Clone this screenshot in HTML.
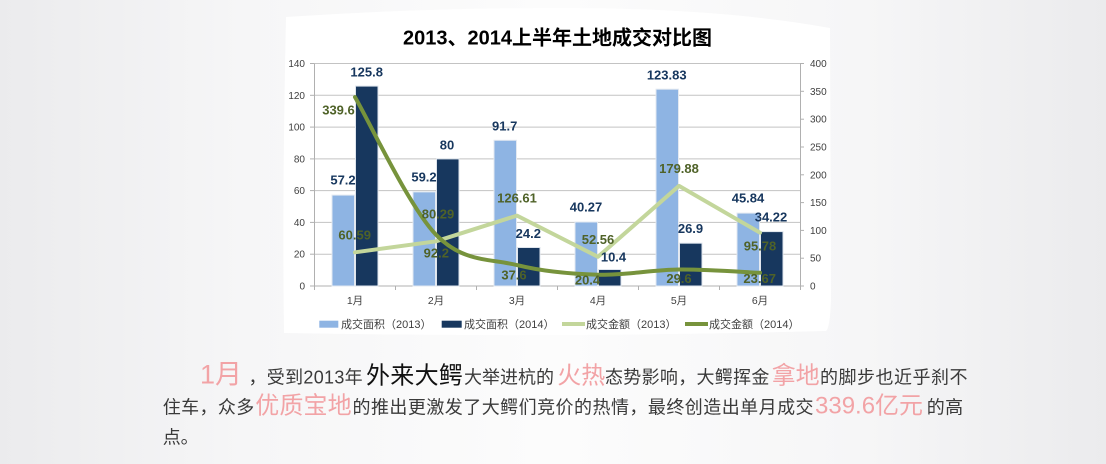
<!DOCTYPE html>
<html>
<head>
<meta charset="utf-8">
<style>
html,body{margin:0;padding:0;width:1106px;height:464px;overflow:hidden;background:#f4f4f5;}
svg{display:block;}
.t{font-family:"Liberation Sans","Noto Sans CJK SC",sans-serif;}
</style>
</head>
<body>
<svg width="1106" height="464" viewBox="0 0 1106 464" xmlns="http://www.w3.org/2000/svg" class="t">
  <defs>
    <linearGradient id="bg" x1="0" y1="0" x2="1" y2="0">
      <stop offset="0" stop-color="#ebebed"/>
      <stop offset="0.22" stop-color="#f6f6f7"/>
      <stop offset="0.5" stop-color="#fcfcfc"/>
      <stop offset="0.78" stop-color="#f6f6f7"/>
      <stop offset="1" stop-color="#ebebed"/>
    </linearGradient>
  </defs>
  <rect x="0" y="0" width="1106" height="464" fill="url(#bg)"/>
  <!-- white chart card -->
  <path d="M286 17 Q 420 8 560 8 Q 720 8 830 28 L 831 300 Q 830 328 826 331 Q 560 338 284 333 Q 282 200 286 17 Z" fill="#ffffff"/>

  <!-- Title -->
  <text x="557.5" y="44.3" font-size="20" font-weight="bold" text-anchor="middle" fill="#000">2013、2014上半年土地成交对比图</text>

  <!-- gridlines -->
  <g stroke="#c3c3c3" stroke-width="1">
    <line x1="314" y1="63.5" x2="800" y2="63.5"/>
    <line x1="314" y1="95.3" x2="800" y2="95.3"/>
    <line x1="314" y1="127.1" x2="800" y2="127.1"/>
    <line x1="314" y1="158.9" x2="800" y2="158.9"/>
    <line x1="314" y1="190.6" x2="800" y2="190.6"/>
    <line x1="314" y1="222.4" x2="800" y2="222.4"/>
    <line x1="314" y1="254.2" x2="800" y2="254.2"/>
  </g>
  <!-- axes -->
  <g stroke="#b0b0b0" stroke-width="1">
    <line x1="314.5" y1="63.5" x2="314.5" y2="286"/>
    <line x1="800.5" y1="63.5" x2="800.5" y2="286"/>
    <line x1="310" y1="286" x2="804" y2="286"/>
    <line x1="310" y1="63.5" x2="314" y2="63.5"/>
    <line x1="310" y1="95.3" x2="314" y2="95.3"/>
    <line x1="310" y1="127.1" x2="314" y2="127.1"/>
    <line x1="310" y1="158.9" x2="314" y2="158.9"/>
    <line x1="310" y1="190.6" x2="314" y2="190.6"/>
    <line x1="310" y1="222.4" x2="314" y2="222.4"/>
    <line x1="310" y1="254.2" x2="314" y2="254.2"/>
    <line x1="800" y1="63.5" x2="804" y2="63.5"/>
    <line x1="800" y1="91.3" x2="804" y2="91.3"/>
    <line x1="800" y1="119.2" x2="804" y2="119.2"/>
    <line x1="800" y1="147.0" x2="804" y2="147.0"/>
    <line x1="800" y1="174.8" x2="804" y2="174.8"/>
    <line x1="800" y1="202.6" x2="804" y2="202.6"/>
    <line x1="800" y1="230.4" x2="804" y2="230.4"/>
    <line x1="800" y1="258.2" x2="804" y2="258.2"/>
    <line x1="314.5" y1="286" x2="314.5" y2="290"/>
    <line x1="395.5" y1="286" x2="395.5" y2="290"/>
    <line x1="476.5" y1="286" x2="476.5" y2="290"/>
    <line x1="557.5" y1="286" x2="557.5" y2="290"/>
    <line x1="638.5" y1="286" x2="638.5" y2="290"/>
    <line x1="719.5" y1="286" x2="719.5" y2="290"/>
    <line x1="800.5" y1="286" x2="800.5" y2="290"/>
  </g>

  <!-- left tick labels -->
  <g font-size="10" fill="#404040" text-anchor="end">
    <text x="305" y="67">140</text>
    <text x="305" y="98.8">120</text>
    <text x="305" y="130.6">100</text>
    <text x="305" y="162.4">80</text>
    <text x="305" y="194.1">60</text>
    <text x="305" y="225.9">40</text>
    <text x="305" y="257.7">20</text>
    <text x="305" y="289.5">0</text>
  </g>
  <!-- right tick labels -->
  <g font-size="10" fill="#404040">
    <text x="810" y="67">400</text>
    <text x="810" y="94.8">350</text>
    <text x="810" y="122.7">300</text>
    <text x="810" y="150.5">250</text>
    <text x="810" y="178.3">200</text>
    <text x="810" y="206.1">150</text>
    <text x="810" y="233.9">100</text>
    <text x="810" y="261.7">50</text>
    <text x="810" y="289.5">0</text>
  </g>

  <!-- category labels -->
  <g font-size="10.5" fill="#404040" text-anchor="middle">
    <text x="355" y="304">1月</text>
    <text x="436" y="304">2月</text>
    <text x="517" y="304">3月</text>
    <text x="598" y="304">4月</text>
    <text x="679" y="304">5月</text>
    <text x="760" y="304">6月</text>
  </g>

  <!-- bars 2013 -->
  <g fill="#8eb4e3" stroke="#e3e9f1" stroke-width="1">
    <rect x="332" y="195.1" width="22.5" height="90.9"/>
    <rect x="413" y="191.9" width="22.5" height="94.1"/>
    <rect x="494" y="140.3" width="22.5" height="145.7"/>
    <rect x="575" y="222.0" width="22.5" height="64"/>
    <rect x="656" y="89.2" width="22.5" height="196.8"/>
    <rect x="737" y="213.1" width="22.5" height="72.9"/>
  </g>
  <!-- bars 2014 -->
  <g fill="#17375e" stroke="#dfe5ed" stroke-width="1">
    <rect x="355.5" y="86.1" width="22.5" height="199.9"/>
    <rect x="436.5" y="158.9" width="22.5" height="127.1"/>
    <rect x="517.5" y="247.5" width="22.5" height="38.5"/>
    <rect x="598.5" y="269.5" width="22.5" height="16.5"/>
    <rect x="679.5" y="243.2" width="22.5" height="42.8"/>
    <rect x="760.5" y="231.6" width="22.5" height="54.4"/>
  </g>

  <!-- line 2013 -->
  <polyline points="355,252.3 436,241.3 517,215.6 598,256.8 679,185.9 760,232.7" fill="none" stroke="#c3d69b" stroke-width="4" stroke-linejoin="round" stroke-linecap="round"/>
  <!-- line 2014 smoothed -->
  <path d="M355 97.1 C368.5 120 409 206.7 436 234.7 C463 262.7 490 258.4 517 265.1 C544 271.8 571 274 598 274.7 C625 275.4 652 269.8 679 269.5 C706 269.2 746.5 272.25 760 272.8" fill="none" stroke="#77933c" stroke-width="4" stroke-linecap="round"/>

  <!-- bar data labels -->
  <g font-size="13" font-weight="bold" fill="#17375e" text-anchor="middle">
    <text x="343" y="184.7">57.2</text>
    <text x="366.7" y="76.7">125.8</text>
    <text x="424" y="181.7">59.2</text>
    <text x="447" y="149.7">80</text>
    <text x="504.7" y="130.7">91.7</text>
    <text x="528.3" y="238">24.2</text>
    <text x="586" y="211.4">40.27</text>
    <text x="613.5" y="261.4">10.4</text>
    <text x="666.7" y="79.7">123.83</text>
    <text x="690.5" y="233">26.9</text>
    <text x="748" y="202.4">45.84</text>
    <text x="771" y="221.4">34.22</text>
  </g>
  <!-- line data labels -->
  <g font-size="13" font-weight="bold" fill="#4f6228" text-anchor="middle">
    <text x="338.5" y="114.7">339.6</text>
    <text x="354.7" y="239.7">60.59</text>
    <text x="438" y="218.7">80.29</text>
    <text x="436.3" y="257.4">92.2</text>
    <text x="517" y="202.4">126.61</text>
    <text x="514" y="279.7">37.6</text>
    <text x="598" y="244">52.56</text>
    <text x="587.5" y="284.7">20.4</text>
    <text x="679" y="173">179.88</text>
    <text x="679" y="283">29.6</text>
    <text x="760" y="250.7">95.78</text>
    <text x="759.7" y="283">23.67</text>
  </g>

  <!-- legend -->
  <rect x="319.3" y="320.7" width="19" height="7" fill="#8eb4e3"/>
  <text x="341" y="328" font-size="11" fill="#404040">成交面积（2013）</text>
  <rect x="441.7" y="320.7" width="20" height="7" fill="#17375e"/>
  <text x="464" y="328" font-size="11" fill="#404040">成交面积（2014）</text>
  <line x1="562" y1="324" x2="585" y2="324" stroke="#c3d69b" stroke-width="4"/>
  <text x="586" y="328" font-size="11" fill="#404040">成交金额（2013）</text>
  <line x1="685" y1="324" x2="708" y2="324" stroke="#77933c" stroke-width="4"/>
  <text x="709" y="328" font-size="11" fill="#404040">成交金额（2014）</text>

  <!-- paragraph -->
  <g fill="#3a3a3a">
    <text x="200" y="383.5" font-size="27" fill="#f2a3a6">1月</text>
    <text x="248.5" y="383.5" font-size="18" letter-spacing="0.3">，受到2013年</text>
    <text x="366" y="383.5" font-size="24" letter-spacing="0.3" fill="#111">外来大鳄</text>
    <text x="464" y="383.5" font-size="18">大举进杭的</text>
    <text x="557.3" y="383.5" font-size="24" fill="#f2a3a6">火热</text>
    <text x="605" y="383.5" font-size="18" letter-spacing="0.3">态势影响，大鳄挥金</text>
    <text x="771.7" y="383.5" font-size="24" fill="#f2a3a6">拿地</text>
    <text x="820" y="383.5" font-size="18" letter-spacing="0.5">的脚步也近乎刹不</text>

    <text x="162.7" y="413.5" font-size="18" letter-spacing="0.4">住车，众多</text>
    <text x="255.3" y="413.5" font-size="24" letter-spacing="0.1" fill="#f2a3a6">优质宝地</text>
    <text x="352.5" y="413.5" font-size="18" letter-spacing="0.46">的推出更激发了大鳄们竞价的热情，最终创造出单月成交</text>
    <text x="815" y="413.5" font-size="24" fill="#f2a3a6">339.6亿元</text>
    <text x="926.7" y="413.5" font-size="18" letter-spacing="0.5">的高</text>

    <text x="162.7" y="443.5" font-size="18">点。</text>
  </g>
</svg>
</body>
</html>
